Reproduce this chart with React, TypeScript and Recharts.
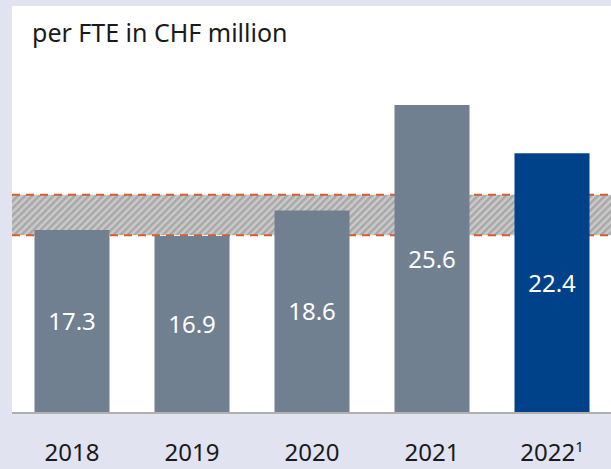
import React from "react";
import { BarChart, Bar, XAxis, YAxis, Cell, LabelList, ReferenceArea, ReferenceLine } from "recharts";

const years = ["2018", "2019", "2020", "2021", "2022"];
const values = [17.3, 16.9, 18.6, 25.6, 22.4];
const footnotes = ["", "", "", "", "1"];
const barColors = ["#708090", "#708090", "#708090", "#708090", "#00428a"];
const targetLow = 16.95;
const targetHigh = 19.65;

const data = years.map((y, i) => ({ year: y, value: values[i], note: footnotes[i] }));

const FONT = "'Noto Sans', 'Open Sans', sans-serif";
const DOMAIN: [number, number] = [5.15, 32.18];
const MARGIN = { top: 6, right: 0, bottom: 0, left: 12 };

const YearTick = (props: any) => {
  const { x, y, payload, index } = props;
  const note = footnotes[index] || "";
  return (
    <text x={x} y={y + 40} textAnchor="middle" fontFamily={FONT} fontSize={24} fill="#1a1a1a">
      {payload.value}
      {note ? (
        <tspan fontSize={15} dy={-9}>{note}</tspan>
      ) : null}
    </text>
  );
};

export default function App() {
  return (
    <div style={{ position: "absolute", left: 0, top: 0, width: 611, height: 469, background: "#e1e3f1", overflow: "hidden" }}>
      <div style={{ position: "absolute", left: 12, top: 6, width: 600, height: 407, background: "#ffffff" }} />
      <div style={{ position: "absolute", left: 32, top: 15, fontFamily: FONT, fontSize: 25, color: "#1a1a1a", lineHeight: "34px" }}>
        per FTE in CHF million
      </div>
      <div style={{ position: "absolute", left: 0, top: 0 }}>
        <BarChart width={612} height={469} data={data} margin={MARGIN} barCategoryGap={22.5}>
          <defs>
            <pattern id="hatch" width="5" height="5" patternUnits="userSpaceOnUse" patternTransform="rotate(45)">
              <rect width="5" height="5" fill="#cacaca" />
              <rect width="2.5" height="5" fill="#a8a8a8" />
            </pattern>
          </defs>
          <XAxis dataKey="year" height={56} tick={false} tickLine={false} axisLine={false} />
          <YAxis hide domain={DOMAIN} type="number" allowDataOverflow />
          <ReferenceArea y1={targetLow} y2={targetHigh} fill="url(#hatch)" fillOpacity={1} stroke="none" />
          <ReferenceLine y={targetHigh} stroke="#d2602c" strokeWidth={2} strokeDasharray="8 6" />
          <ReferenceLine y={targetLow} stroke="#d2602c" strokeWidth={2} strokeDasharray="8 6" />
          <Bar dataKey="value" fill="transparent" isAnimationActive={false} />
        </BarChart>
      </div>
      <div style={{ position: "absolute", left: 0, top: 0 }}>
        <BarChart width={612} height={469} data={data} margin={MARGIN} barCategoryGap={22.5}>
          <XAxis
            dataKey="year"
            height={56}
            tickLine={false}
            axisLine={{ stroke: "#b0b0b0", strokeWidth: 2 }}
            tick={<YearTick />}
            interval={0}
          />
          <YAxis hide domain={DOMAIN} type="number" allowDataOverflow />
          <Bar dataKey="value" isAnimationActive={false}>
            {data.map((d, i) => (
              <Cell key={d.year} fill={barColors[i]} />
            ))}
            <LabelList dataKey="value" position="center" fill="#ffffff" fontSize={24} fontFamily={FONT} formatter={(v: any) => Number(v).toFixed(1)} />
          </Bar>
        </BarChart>
      </div>
    </div>
  );
}
